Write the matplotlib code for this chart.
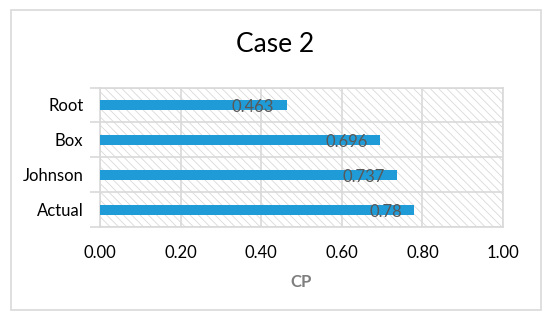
import numpy as np
import matplotlib
matplotlib.use('Agg')
import matplotlib.pyplot as plt
from matplotlib.patches import Rectangle

#--------------------------------
# data
categories = ['Actual', 'Johnson', 'Box', 'Root']
cp_values  = [0.78, 0.737, 0.696, 0.463]
cp_labels  = ['0.78', '0.737', '0.696', '0.463']
x_ticks    = [0.0, 0.2, 0.4, 0.6, 0.8, 1.0]

#--------------------------------
GRID  = '#d9d9d9'
BAR   = '#1f9bd7'
LABEL = '#595959'

plt.rcParams['font.family'] = ['Lato', 'DejaVu Sans']
plt.rcParams['hatch.linewidth'] = 0.6

def main() :
    fig = plt.figure(figsize=(5.5, 3.22), dpi=100, facecolor='w')

    # outer chart border
    fig.patches.append(Rectangle((11/550., 12/322.), 530/550., 300/322., transform=fig.transFigure,
                                 fill=False, edgecolor=GRID, linewidth=1.2, zorder=0))

    ax = fig.add_axes([100/550., 95/322., 403/550., 139.5/322.])
    ax.set_facecolor('w')

    # hatched plot area
    ax.add_patch(Rectangle((0, 0), 1, 1, transform=ax.transAxes, facecolor='none',
                           edgecolor=GRID, linewidth=0, hatch='\\\\\\\\', zorder=0))

    y = np.arange(len(categories))
    ax.barh(y, cp_values, height=0.29, color=BAR, zorder=3)

    for yi, v, s in zip(y, cp_values, cp_labels) :
        ax.annotate(s, (v, yi), xytext=(-9, -1.5), textcoords='offset points',
                    ha='right', va='center', color=LABEL, fontsize=12, zorder=4)

    ax.set_xlim(0, 1)
    ax.set_ylim(-0.5, len(categories) - 0.5)
    ax.set_xticks(x_ticks)
    ax.set_xticklabels(['%.2f' % t for t in x_ticks], fontsize=12)
    ax.set_yticks(y)
    ax.set_yticklabels(categories, fontsize=12)
    ax.set_yticks(np.arange(len(categories) + 1) - 0.5, minor=True)

    ax.tick_params(axis='x', length=0, pad=13)
    ax.tick_params(axis='y', which='major', length=0, pad=12)
    ax.tick_params(axis='y', which='minor', length=7, color=GRID, width=1.2)

    ax.grid(True, axis='x', color=GRID, linewidth=1.2, zorder=1)
    ax.grid(True, axis='y', which='minor', color=GRID, linewidth=1.2, zorder=1)
    ax.set_axisbelow(True)
    for sp in ax.spines.values() :
        sp.set_color(GRID)
        sp.set_linewidth(1.2)

    ax.set_xlabel('CP', fontsize=12, fontweight='bold', color='#7f7f7f', labelpad=9)
    fig.text(0.5, 1 - 44.5/322., 'Case 2', ha='center', va='center', fontsize=19)

    fig.savefig('out.png', dpi=100, facecolor='w')

#--------------------------------

if __name__ == "__main__" :
    main()
